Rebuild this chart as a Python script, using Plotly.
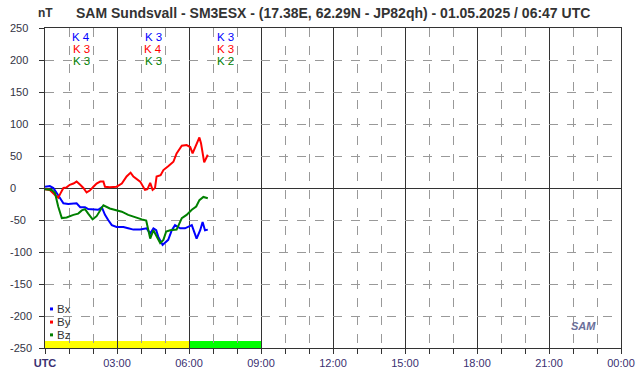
import plotly.graph_objects as go

# ---- data (minutes since 00:00 UTC, values in nT) ----
bx_t = [0,12,21,29,38,46,58,71,79,88,100,108,121,133,142,150,158,167,179,196,208,221,238,254,263,271,278,283,294,300,308,317,325,338,350,367,379,388,394,400,407]
bx_v = [2,3,0,-8,-18,-24,-25,-24,-24,-30,-30,-33,-34,-34,-30,-42,-50,-58,-61,-61,-63,-65,-65,-63,-71,-63,-66,-76,-89,-86,-81,-66,-58,-63,-63,-58,-79,-66,-53,-66,-65]

by_t = [0,12,25,33,39,46,54,62,71,79,88,96,104,112,121,129,138,146,150,162,179,192,204,214,221,238,250,256,263,269,275,279,289,296,308,321,329,342,354,363,369,375,381,386,390,394,398,404,407]
by_v = [-2,-3,-11,-15,-8,0,1,5,7,10,5,0,-7,-4,2,7,10,10,2,1,2,7,18,24,18,10,-3,-2,8,-3,0,18,20,28,34,41,54,66,67,64,54,62,71,79,70,54,40,48,52]

bz_t = [0,17,25,33,42,54,71,83,92,100,108,119,129,146,162,175,192,208,225,242,253,258,263,271,279,288,296,303,313,329,342,354,367,378,386,396,407]
bz_v = [-2,-3,-8,-29,-47,-46,-42,-40,-35,-33,-40,-49,-44,-27,-32,-34,-37,-42,-46,-49,-51,-66,-79,-66,-76,-86,-81,-68,-66,-65,-47,-42,-34,-29,-19,-14,-16]

k_block_mid = [90, 270, 450]          # centre of each 3-hour block (minutes)
k_x = [4, 3, 3]
k_y = [3, 4, 3]
k_z = [3, 3, 2]

status_start = [0, 360]
status_end = [360, 540]
status_color = ["#FFFF00", "#00FF00"]

x_tick_vals = [0,180,360,540,720,900,1080,1260,1440]
x_tick_text = ["<b>UTC</b>","03:00","06:00","09:00","12:00","15:00","18:00","21:00","00:00"]
y_tick_vals = [250,200,150,100,50,0,-50,-100,-150,-200,-250]

series_names = ["Bx", "By", "Bz"]
title_text = "SAM Sundsvall - SM3ESX - (17.38E, 62.29N - JP82qh) - 01.05.2025 / 06:47 UTC"

BLUE, RED, GREEN = "#0000FF", "#FF0000", "#008000"
COLORS = [BLUE, RED, GREEN]
FONT = "Liberation Sans, Arial, sans-serif"

fig = go.Figure()

shapes = []
# status bar at bottom
for s, e, c in zip(status_start, status_end, status_color):
    shapes.append(dict(type="rect", xref="x", yref="y", x0=s, x1=e, y0=-250, y1=-239,
                       fillcolor=c, line=dict(width=0), layer="below"))

for t, v, c, n in zip([bx_t, by_t, bz_t], [bx_v, by_v, bz_v], COLORS, series_names):
    fig.add_trace(go.Scatter(x=t, y=v, mode="lines", line=dict(color=c, width=2),
                             showlegend=False, name=n, hoverinfo="skip"))

ann = []
# K-index labels
for xm, a, b, c in zip(k_block_mid, k_x, k_y, k_z):
    for val, col, yv in [(a, BLUE, 236), (b, RED, 218), (c, GREEN, 200)]:
        ann.append(dict(x=xm, y=yv, xref="x", yref="y", text=f"K {val}", showarrow=False,
                        height=11, font=dict(family=FONT, size=11.5, color=col),
                        xanchor="center", yanchor="middle"))

# y tick labels, left aligned
for yv in y_tick_vals:
    ann.append(dict(x=0, y=yv, xref="paper", yref="y", text=str(yv), showarrow=False,
                    xshift=-37, xanchor="left", yanchor="middle",
                    font=dict(family=FONT, size=11, color="#333344")))

# custom legend
legend_y = [0.122, 0.081, 0.041]
for n, c, ly in zip(series_names, COLORS, legend_y):
    shapes.append(dict(type="rect", xref="paper", yref="paper",
                       xsizemode="pixel", ysizemode="pixel", xanchor=0, yanchor=ly,
                       x0=5, x1=8, y0=-1.5, y1=1.5, fillcolor=c, line=dict(width=0)))
    ann.append(dict(x=0, y=ly, xref="paper", yref="paper", text=n, showarrow=False,
                    xshift=10, xanchor="left", yanchor="middle", height=12,
                    font=dict(family=FONT, size=11.5, color="#333333")))

ann.append(dict(x=0, y=1, xref="paper", yref="paper", text="<b>nT</b>", showarrow=False,
                yshift=15, xanchor="center", yanchor="middle",
                font=dict(family=FONT, size=12, color="#333333")))
ann.append(dict(x=0.5, y=1, xref="paper", yref="paper", text="<b>" + title_text + "</b>",
                showarrow=False, yshift=15, xanchor="center", yanchor="middle",
                font=dict(family=FONT, size=14, color="#333333")))
ann.append(dict(x=0.935, y=0.07, xref="paper", yref="paper", text="<i><b>SAM</b></i>",
                showarrow=False, xanchor="center", yanchor="middle",
                font=dict(family=FONT, size=11, color="#6a6f9a")))

fig.update_layout(
    width=642, height=376,
    margin=dict(l=45, r=21, t=28, b=28, autoexpand=False),
    paper_bgcolor="white", plot_bgcolor="white",
    shapes=shapes, annotations=ann,
    showlegend=False,
)
fig.update_xaxes(range=[0, 1440], tickvals=x_tick_vals, ticktext=x_tick_text,
                 automargin=False,
                 showgrid=True, gridcolor="#333333", gridwidth=1,
                 ticks="outside", ticklen=5, tickcolor="#333333",
                 showline=True, linecolor="#333333", linewidth=1, mirror=True,
                 zeroline=False,
                 tickfont=dict(family=FONT, size=11, color="#3a2f70"),
                 minor=dict(dtick=60, tick0=0, showgrid=True, gridcolor="#999999",
                            griddash="dash", ticks="outside", ticklen=5, tickcolor="#333333"))
fig.update_yaxes(range=[-250, 250], tickvals=y_tick_vals, showticklabels=False,
                 automargin=False,
                 showgrid=True, gridcolor="#999999", griddash="dash", gridwidth=1,
                 ticks="outside", ticklen=5, tickcolor="#333333",
                 showline=True, linecolor="#333333", linewidth=1, mirror=True,
                 zeroline=True, zerolinecolor="#333333", zerolinewidth=1)

fig.write_html("out.html", config={"displayModeBar": False},
               post_script="document.body.style.margin='0px';")
